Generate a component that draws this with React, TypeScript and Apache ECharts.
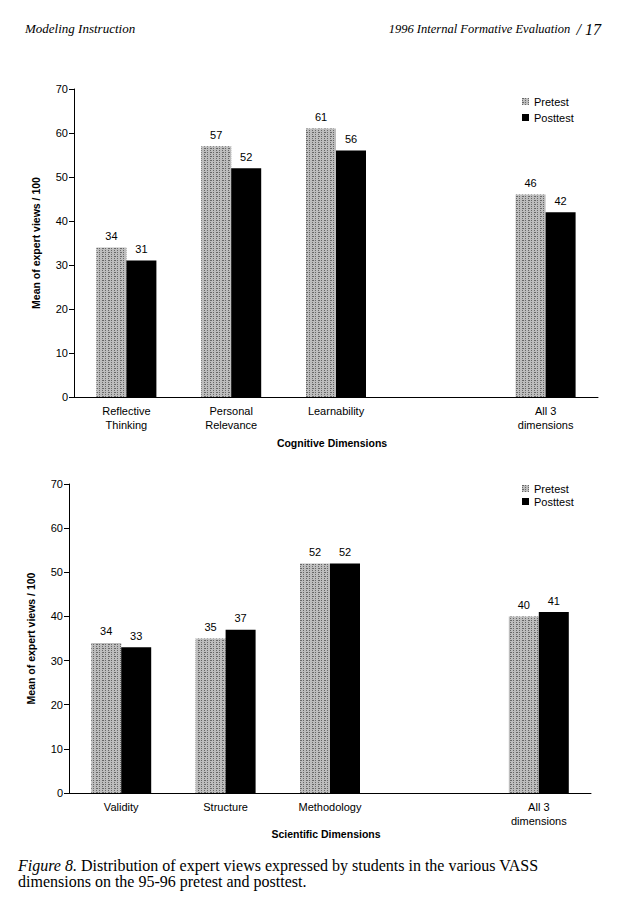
import React, { useEffect, useRef } from "react";
import * as echarts from "echarts";

const seriesNames = ["Pretest", "Posttest"];

const cognitiveCategories = ["Reflective\nThinking", "Personal\nRelevance", "Learnability", "", "All 3\ndimensions"];
const cognitivePretest: (number | string)[] = [34, 57, 61, "-", 46];
const cognitivePosttest: (number | string)[] = [31, 52, 56, "-", 42];

const scientificCategories = ["Validity", "Structure", "Methodology", "", "All 3\ndimensions"];
const scientificPretest: (number | string)[] = [34, 35, 52, "-", 40];
const scientificPosttest: (number | string)[] = [33, 37, 52, "-", 41];

const yTicks = { min: 0, max: 70, interval: 10 };

const SANS = "'Liberation Sans', Arial, sans-serif";
const SERIF = "'Liberation Serif', 'Times New Roman', serif";
const PRE_COLOR = "#bdbdbd";
const POST_COLOR = "#000000";

export default function App() {
  const ref = useRef<HTMLDivElement>(null);

  useEffect(() => {
    if (!ref.current) return;
    const chart = echarts.init(ref.current, null, { renderer: "svg" });

    const yAxisBase = (gridIndex: number) => ({
      type: "value" as const,
      gridIndex,
      min: yTicks.min,
      max: yTicks.max,
      interval: yTicks.interval,
      name: "Mean of expert views / 100",
      nameLocation: "middle" as const,
      nameGap: 33,
      nameTextStyle: { fontFamily: SANS, fontSize: 10.5, fontWeight: "bold" as const, color: "#000" },
      axisLine: { show: true, lineStyle: { color: "#000", width: 1 } },
      axisTick: { show: true, length: 5, lineStyle: { color: "#000" } },
      axisLabel: { fontFamily: SANS, fontSize: 11, color: "#000", margin: 6 },
      splitLine: { show: false },
    });

    const xAxisBase = (gridIndex: number, data: string[], name: string, nameGap: number) => ({
      type: "category" as const,
      gridIndex,
      data,
      name,
      nameLocation: "middle" as const,
      nameGap,
      nameTextStyle: { fontFamily: SANS, fontSize: 10.5, fontWeight: "bold" as const, color: "#000", padding: [0, 0, 0, -8] },
      axisLine: { show: true, lineStyle: { color: "#000", width: 1 } },
      axisTick: { show: false },
      axisLabel: { fontFamily: SANS, fontSize: 11, color: "#000", margin: 7, lineHeight: 14, interval: 0 },
    });

    const stipple = {
      symbol: "rect",
      symbolSize: 1,
      color: "rgba(0,0,0,0.45)",
      dashArrayX: [[1, 2], [2, 1, 1, 2]],
      dashArrayY: [1, 1],
      rotation: 0,
    };

    const barSeries = (name: string, data: (number | string)[], idx: number, color: string, decal?: any) => ({
      type: "bar" as const,
      name,
      data,
      xAxisIndex: idx,
      yAxisIndex: idx,
      barWidth: 30,
      barGap: "0%",
      itemStyle: decal ? { color, decal } : { color },
      label: { show: true, position: "top" as const, distance: 6, fontFamily: SANS, fontSize: 11, color: "#000" },
    });

    const legendBase = (top: number, itemGap: number) => ({
      data: seriesNames,
      orient: "vertical" as const,
      left: 522,
      top,
      padding: 0,
      itemWidth: 7,
      itemHeight: 7,
      itemGap,
      icon: "rect",
      textStyle: { fontFamily: SANS, fontSize: 11, color: "#000" },
    });

    chart.setOption({
      animation: false,
      backgroundColor: "#fff",
      grid: [
        { left: 74, top: 89, width: 524, height: 308 },
        { left: 69, top: 484, width: 522, height: 309 },
      ],
      legend: [legendBase(96, 5), legendBase(483, 2)],
      xAxis: [
        xAxisBase(0, cognitiveCategories, "Cognitive Dimensions", 40),
        xAxisBase(1, scientificCategories, "Scientific Dimensions", 33),
      ],
      yAxis: [yAxisBase(0), yAxisBase(1)],
      series: [
        barSeries(seriesNames[0], cognitivePretest, 0, PRE_COLOR, stipple),
        barSeries(seriesNames[1], cognitivePosttest, 0, POST_COLOR),
        barSeries(seriesNames[0], scientificPretest, 1, PRE_COLOR, stipple),
        barSeries(seriesNames[1], scientificPosttest, 1, POST_COLOR),
      ],
      graphic: [
        {
          type: "text",
          left: 25,
          top: 22,
          style: { text: "Modeling Instruction", fontFamily: SERIF, fontStyle: "italic", fontSize: 13, fill: "#000" },
        },
        {
          type: "text",
          right: 24,
          top: 21,
          style: {
            text: "1996 Internal Formative Evaluation  {b|/ 17}",
            fontFamily: SERIF,
            fontStyle: "italic",
            fontSize: 12.5,
            fill: "#000",
            rich: { b: { fontFamily: SERIF, fontStyle: "italic", fontSize: 16, fill: "#000" } },
          },
        },
        {
          type: "text",
          left: 18,
          top: 857,
          style: {
            text: "{i|Figure 8.} Distribution of expert views expressed by students in the various VASS\ndimensions on the 95-96 pretest and posttest.",
            fontFamily: SERIF,
            fontSize: 16,
            lineHeight: 16,
            fill: "#000",
            rich: { i: { fontFamily: SERIF, fontStyle: "italic", fontSize: 16, fill: "#000" } },
          },
        },
      ],
    });

    return () => chart.dispose();
  }, []);

  return (
    <div
      ref={ref}
      style={{ position: "absolute", left: 0, top: 0, width: 625, height: 918, background: "#fff" }}
    />
  );
}
